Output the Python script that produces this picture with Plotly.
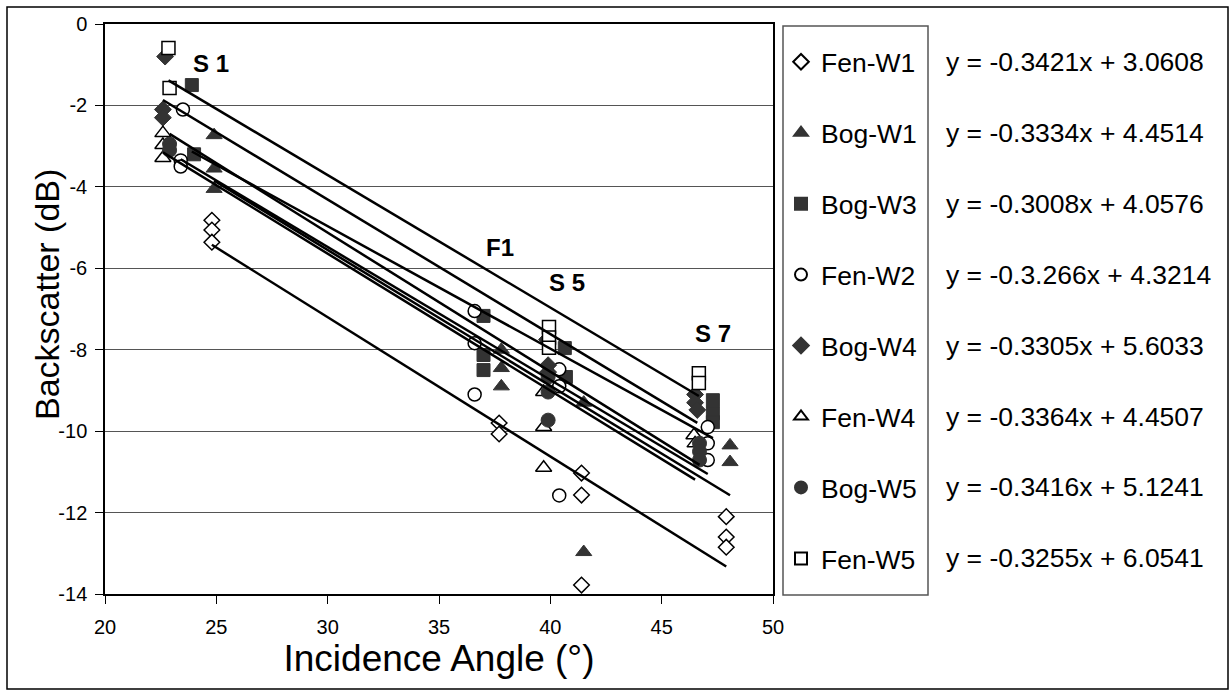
import plotly.graph_objects as go

# ---------------- data ----------------
series_names = ["Fen-W1", "Bog-W1", "Bog-W3", "Fen-W2", "Bog-W4", "Fen-W4", "Bog-W5", "Fen-W5"]

fen_w1_x = [24.8, 24.8, 24.8, 37.7, 37.7, 41.4, 41.4, 41.4, 47.9, 47.9, 47.9]
fen_w1_y = [-4.82, -5.06, -5.36, -9.8, -10.07, -11.03, -11.57, -13.78, -12.1, -12.6, -12.85]

bog_w1_x = [24.9, 24.9, 24.9, 37.8, 37.8, 37.8, 41.5, 41.5, 48.07, 48.07]
bog_w1_y = [-2.73, -3.55, -4.05, -8.0, -8.45, -8.9, -9.3, -12.97, -10.35, -10.76]

bog_w3_x = [23.9, 24.0, 37.0, 37.0, 37.0, 40.65, 40.7, 47.3, 47.3, 47.3]
bog_w3_y = [-1.5, -3.2, -7.17, -8.13, -8.5, -7.96, -8.67, -9.24, -9.56, -9.78]

fen_w2_x = [23.5, 23.4, 23.4, 36.6, 36.6, 36.6, 40.4, 40.4, 40.4, 47.07, 47.07, 47.07]
fen_w2_y = [-2.1, -3.35, -3.5, -7.05, -7.84, -9.1, -8.48, -8.9, -11.58, -9.9, -10.3, -10.71]

bog_w4_x = [22.7, 22.6, 22.6, 39.85, 39.9, 39.9, 46.5, 46.5, 46.6]
bog_w4_y = [-0.8, -2.1, -2.3, -7.75, -8.38, -8.55, -9.1, -9.3, -9.48]

fen_w4_x = [22.6, 22.6, 22.6, 39.7, 39.7, 39.7, 46.45, 46.5]
fen_w4_y = [-2.68, -2.97, -3.29, -9.04, -9.9, -10.9, -10.1, -10.3]

bog_w5_x = [22.9, 22.9, 39.9, 39.9, 39.9, 46.7, 46.7, 46.7]
bog_w5_y = [-2.95, -3.1, -8.67, -9.04, -9.73, -10.3, -10.5, -10.71]

fen_w5_x = [22.85, 22.9, 39.94, 39.94, 39.94, 46.67, 46.67]
fen_w5_y = [-0.59, -1.57, -7.44, -7.7, -7.95, -8.58, -8.82]

series_x = [fen_w1_x, bog_w1_x, bog_w3_x, fen_w2_x, bog_w4_x, fen_w4_x, bog_w5_x, fen_w5_x]
series_y = [fen_w1_y, bog_w1_y, bog_w3_y, fen_w2_y, bog_w4_y, fen_w4_y, bog_w5_y, fen_w5_y]

slopes = [-0.3421, -0.3334, -0.3008, -0.3266, -0.3305, -0.3364, -0.3416, -0.3255]
intercepts = [3.0608, 4.4514, 4.0576, 4.3214, 5.6033, 4.4507, 5.1241, 6.0541]
equation_labels = [
    "y = -0.3421x + 3.0608",
    "y = -0.3334x + 4.4514",
    "y = -0.3008x + 4.0576",
    "y = -0.3.266x + 4.3214",
    "y = -0.3305x + 5.6033",
    "y = -0.3364x + 4.4507",
    "y = -0.3416x + 5.1241",
    "y = -0.3255x + 6.0541",
]

site_labels = ["S 1", "F1", "S 5", "S 7"]

x_ticks = [20, 25, 30, 35, 40, 45, 50]
y_ticks = [0, -2, -4, -6, -8, -10, -12, -14]

# ---------------- styles ----------------
FONT = "Liberation Sans, Arial, sans-serif"
DARK = "#333333"
symbols = ["diamond", "triangle-up", "square", "circle", "diamond", "triangle-up", "circle", "square"]
filled = [False, True, True, False, True, False, True, False]
sizes = [12, 14, 13, 13, 13, 14, 14, 13]

site_pos = [(24.75, -0.96), (37.74, -5.48), (40.75, -6.34), (47.3, -7.59)]

# pixel layout of the plot area
W, H = 1231, 692
L, R, T, B = 105, 773, 24, 594
PW, PH = R - L, B - T


def px_to_paper_x(px):
    return (px - L) / PW


def px_to_paper_y(py):
    return (B - py) / PH


fig = go.Figure()

for i, name in enumerate(series_names):
    if filled[i]:
        marker = dict(symbol=symbols[i], size=sizes[i], color=DARK, line=dict(color=DARK, width=1))
    else:
        marker = dict(symbol=symbols[i], size=sizes[i], color="white", line=dict(color="black", width=1.5))
    fig.add_trace(go.Scatter(
        x=series_x[i], y=series_y[i], mode="markers", name=name,
        marker=marker, legendgroup=name,
    ))

for i, name in enumerate(series_names):
    x0, x1 = min(series_x[i]), max(series_x[i])
    fig.add_trace(go.Scatter(
        x=[x0, x1], y=[slopes[i] * x0 + intercepts[i], slopes[i] * x1 + intercepts[i]],
        mode="lines", line=dict(color="black", width=2.5),
        showlegend=False, hoverinfo="skip", legendgroup=name,
    ))

annotations = []
for (sx, sy), txt in zip(site_pos, site_labels):
    annotations.append(dict(
        x=sx, y=sy, xref="x", yref="y", text="<b>%s</b>" % txt, showarrow=False,
        font=dict(family=FONT, size=24, color="black"),
    ))

first_c, step = 62, 70.9
for i, eq in enumerate(equation_labels):
    annotations.append(dict(
        x=px_to_paper_x(944), y=px_to_paper_y(first_c + step * i), xref="paper", yref="paper",
        xanchor="left", yanchor="middle", text=eq, showarrow=False,
        font=dict(family=FONT, size=26.5, color="black"),
    ))

# y-axis title
annotations.append(dict(
    x=px_to_paper_x(47), y=px_to_paper_y(295), xref="paper", yref="paper",
    xanchor="center", yanchor="middle", textangle=-90, text="Backscatter (dB)", showarrow=False,
    font=dict(family=FONT, size=34, color="black"),
))

shapes = [
    dict(type="rect", xref="paper", yref="paper",
         x0=px_to_paper_x(7), x1=px_to_paper_x(1228), y0=px_to_paper_y(689), y1=px_to_paper_y(7),
         line=dict(color="black", width=1.5), fillcolor="rgba(0,0,0,0)", layer="below"),
    dict(type="rect", xref="paper", yref="paper",
         x0=px_to_paper_x(783), x1=px_to_paper_x(928), y0=px_to_paper_y(595), y1=px_to_paper_y(26),
         line=dict(color="#555555", width=1.5), fillcolor="rgba(0,0,0,0)", layer="below"),
]

fig.update_layout(
    width=W, height=H, autosize=False,
    margin=dict(l=L, r=W - R, t=T, b=H - B, pad=0),
    paper_bgcolor="white", plot_bgcolor="white",
    font=dict(family=FONT, color="black"),
    showlegend=True,
    legend=dict(
        x=px_to_paper_x(781), y=px_to_paper_y(38), xanchor="left", yanchor="top",
        borderwidth=0, bgcolor="rgba(0,0,0,0)",
        font=dict(family=FONT, size=26.5, color="black"),
        tracegroupgap=33.5, itemsizing="constant",
    ),
    annotations=annotations,
    shapes=shapes,
    hovermode=False,
)

fig.update_xaxes(
    range=[20, 50], tickvals=x_ticks, ticktext=[str(v) for v in x_ticks],
    ticks="outside", ticklen=8, tickcolor="black", tickwidth=1,
    showline=True, linecolor="black", linewidth=1.5, mirror=True,
    showgrid=False, zeroline=False,
    tickfont=dict(family=FONT, size=20, color="black"), ticklabelstandoff=6,
    title=dict(text="Incidence Angle (°)", font=dict(family=FONT, size=37, color="black"), standoff=1),
    automargin=False,
)
fig.update_yaxes(
    range=[-14, 0], tickvals=y_ticks, ticktext=[str(v) for v in y_ticks],
    ticks="outside", ticklen=8, tickcolor="black", tickwidth=1,
    showline=True, linecolor="black", linewidth=1.5, mirror=True,
    showgrid=True, gridcolor="#555555", gridwidth=1, zeroline=False,
    tickfont=dict(family=FONT, size=20, color="black"), ticklabelstandoff=4,
    automargin=False,
)

fig.write_html("out.html")
